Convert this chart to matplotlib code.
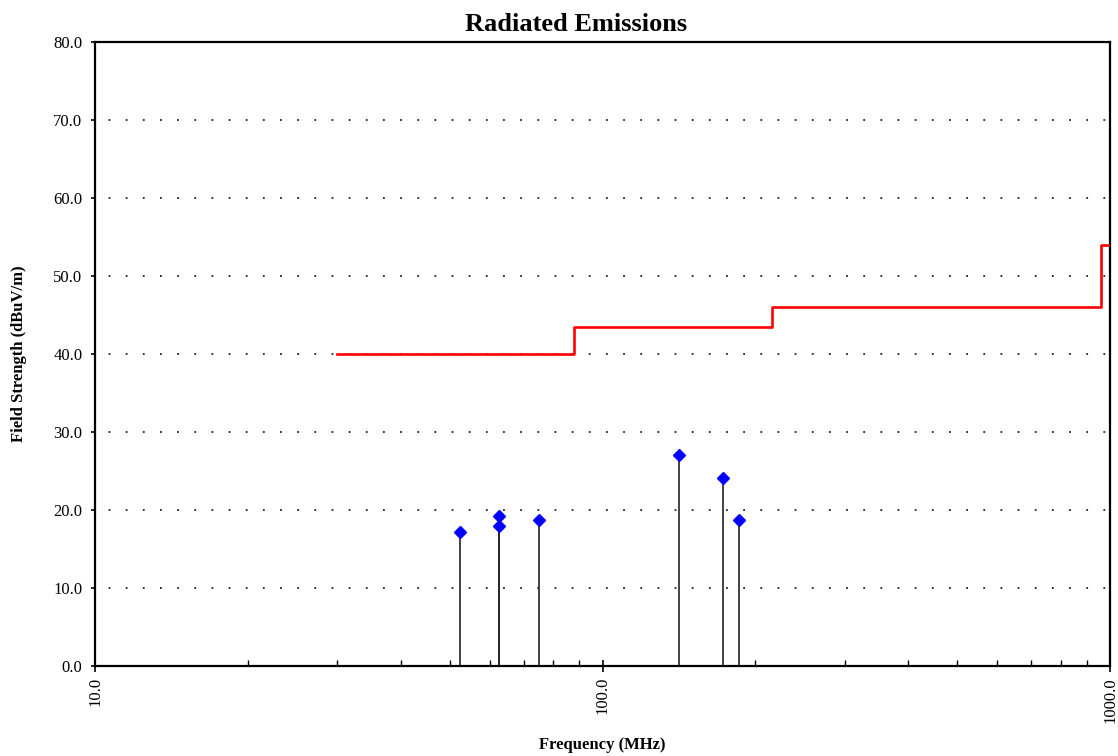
import matplotlib
matplotlib.use("Agg")
import matplotlib.pyplot as plt
from matplotlib.ticker import FixedLocator, LogLocator, NullFormatter, FuncFormatter

# Data
freq_mhz = [52.4, 62.5, 62.5, 75.0, 141.5, 172.7, 185.8]
level_dbuv = [17.2, 19.2, 18.0, 18.7, 27.0, 24.1, 18.7]

limit_freq = [30.0, 88.0, 88.0, 216.0, 216.0, 960.0, 960.0, 1000.0]
limit_level = [40.0, 40.0, 43.5, 43.5, 46.0, 46.0, 54.0, 54.0]

x_ticks = [10.0, 100.0, 1000.0]
y_ticks = [0, 10, 20, 30, 40, 50, 60, 70, 80]

plt.rcParams['font.family'] = ['Liberation Serif', 'DejaVu Serif']

fig = plt.figure(figsize=(11.18, 7.56), dpi=100)
ax = fig.add_axes([95/1118, 90/756, (1110-95)/1118, (666-42)/756])

ax.set_xscale('log')
ax.set_xlim(10, 1000)
ax.set_ylim(0, 80)

# grid
for y in y_ticks[1:-1]:
    ax.axhline(y, color='#222222', lw=1.3, linestyle=(2, (1, 8.5)), zorder=1)

# limit line
ax.plot(limit_freq, limit_level, color='#ff0000', lw=1.9, zorder=3)

# stems + markers
ax.vlines(freq_mhz, 0, level_dbuv, color='#222222', lw=1.2, zorder=2)
ax.plot(freq_mhz, level_dbuv, linestyle='none', marker='D', markersize=6,
        color='#0000ff', markeredgecolor='#0000ff', zorder=4)

ax.xaxis.set_major_locator(FixedLocator(x_ticks))
ax.xaxis.set_minor_locator(LogLocator(base=10, subs=range(2, 10)))
ax.xaxis.set_minor_formatter(NullFormatter())
ax.xaxis.set_major_formatter(FuncFormatter(lambda v, p: f"{v:.1f}"))
ax.yaxis.set_major_locator(FixedLocator(y_ticks))
ax.yaxis.set_major_formatter(FuncFormatter(lambda v, p: f"{v:.1f}"))

for lab in ax.get_xticklabels():
    lab.set_rotation(90)

ax.tick_params(axis='x', which='major', direction='inout', length=8, width=1.2, labelsize=12, pad=4)
ax.tick_params(axis='x', which='minor', direction='in', length=4, width=1.0)
ax.tick_params(axis='y', which='major', direction='out', length=3, width=1.2, labelsize=12, pad=6)

for s in ax.spines.values():
    s.set_linewidth(1.6)
    s.set_color('black')

ax.set_title('Radiated Emissions', fontsize=19, fontweight='bold', pad=8,
             x=(576 - 95) / 1015)
ax.set_xlabel('Frequency (MHz)', fontsize=12, fontweight='bold')
ax.set_ylabel('Field Strength (dBuV/m)', fontsize=12, fontweight='bold')
ax.xaxis.set_label_coords(0.5, (666 - 737) / 624)
ax.yaxis.set_label_coords((27 - 95) / 1015, 0.5)

fig.savefig('out.png', dpi=100)
